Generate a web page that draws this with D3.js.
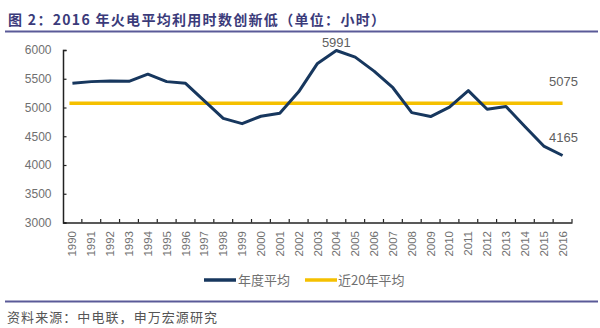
<!DOCTYPE html>
<html><head><meta charset="utf-8">
<script src="https://cdn.jsdelivr.net/npm/d3@7"></script>
<style>html,body{margin:0;padding:0;background:#fff;}svg{display:block;}</style>
</head><body>
<svg id="c" width="600" height="328"></svg>
<script>
const years = ["1990","1991","1992","1993","1994","1995","1996","1997","1998","1999","2000","2001","2002","2003","2004","2005","2006","2007","2008","2009","2010","2011","2012","2013","2014","2015","2016"];
const annualHours = [5420,5450,5460,5455,5580,5450,5420,5114,4811,4719,4848,4900,5272,5767,5991,5876,5633,5344,4911,4842,5005,5294,4970,5016,4669,4329,4165];
const avg20 = 5075;
const yTicks = [3000,3500,4000,4500,5000,5500,6000];
const seriesNames = ["年度平均","近20年平均"];
const titleText = "图 2：2016 年火电平均利用时数创新低（单位：小时）";
const sourceText = "资料来源：中电联，申万宏源研究";

const svg = d3.select("#c");
const navy = "#17375e", gold = "#f5c000", grey = "#707070";
const numFont = "'Liberation Sans', Arial, sans-serif";
const cjkFont = "'Noto Sans CJK SC', sans-serif";

// title
svg.append("text").attr("x", 8).attr("y", 25)
  .attr("font-family", cjkFont).attr("font-weight", "bold").attr("font-size", 14)
  .attr("fill", "#3b3b7a").attr("textLength", 377).attr("lengthAdjust", "spacing")
  .text(titleText);
svg.append("line").attr("x1", 5).attr("x2", 598).attr("y1", 31.5).attr("y2", 31.5)
  .attr("stroke", "#5a5a98").attr("stroke-width", 2);

const x = d3.scaleBand().domain(years).range([63, 572]).padding(0);
const y = d3.scaleLinear().domain([3000, 6000]).range([222.5, 50]);
const cx = d => x(d) + x.bandwidth() / 2;

// y axis
const ya = svg.append("g").attr("transform", "translate(63,0)")
  .call(d3.axisLeft(y).tickValues(yTicks).tickSize(-3.5).tickPadding(11.5).tickFormat(d3.format("d")));
ya.select(".domain").attr("stroke", "#222").attr("stroke-width", 1.5);
ya.selectAll(".tick line").attr("stroke", "#222").attr("stroke-width", 1.2);
ya.selectAll(".tick text").attr("font-family", numFont).attr("font-size", 12).attr("fill", grey);

// x axis
const xa = svg.append("g").attr("transform", "translate(0,222.5)")
  .call(d3.axisBottom(x).tickSize(0).tickSizeOuter(0));
xa.select(".domain").attr("stroke", "#222").attr("stroke-width", 1.5);
xa.selectAll(".tick text")
  .attr("font-family", numFont).attr("font-size", 11.5).attr("fill", grey)
  .attr("text-anchor", "end").attr("transform", "rotate(-90)")
  .attr("x", -8.5).attr("y", 0).attr("dy", "0.35em");
// boundary ticks (inward)
const bounds = years.map(d => x(d)).concat([x.range()[1]]);
svg.append("g").selectAll("line").data(bounds.slice(1)).join("line")
  .attr("x1", d => d).attr("x2", d => d).attr("y1", 222.5).attr("y2", 219)
  .attr("stroke", "#222").attr("stroke-width", 1.2);

// average line
svg.append("line").attr("x1", cx(years[0]) - 3).attr("x2", cx(years[years.length - 1]))
  .attr("y1", y(avg20)).attr("y2", y(avg20))
  .attr("stroke", gold).attr("stroke-width", 3.5);

// annual line
const line = d3.line().x((d, i) => cx(years[i])).y(d => y(d));
svg.append("path").datum(annualHours).attr("d", line)
  .attr("fill", "none").attr("stroke", navy).attr("stroke-width", 3).attr("stroke-linejoin", "round");

// labels
const maxI = annualHours.indexOf(d3.max(annualHours));
const lastI = annualHours.length - 1;
const lab = (t, xx, yy) => svg.append("text").attr("x", xx).attr("y", yy).attr("dy", "0.35em")
  .attr("text-anchor", "middle").attr("font-family", numFont).attr("font-size", 13)
  .attr("fill", "#5f5f5f").text(t);
lab(annualHours[maxI], cx(years[maxI]), y(annualHours[maxI]) - 8);
lab(avg20, cx(years[lastI]) + 1, y(avg20) - 21.5);
lab(annualHours[lastI], cx(years[lastI]) + 1, y(annualHours[lastI]) - 18);

// legend
const leg = [{n: seriesNames[0], c: navy, x: 204, tx: 238}, {n: seriesNames[1], c: gold, x: 305, tx: 338}];
leg.forEach(l => {
  svg.append("line").attr("x1", l.x).attr("x2", l.x + 32).attr("y1", 280).attr("y2", 280)
    .attr("stroke", l.c).attr("stroke-width", 3.5);
  svg.append("text").attr("x", l.tx).attr("y", 280).attr("dy", "0.35em")
    .attr("font-family", cjkFont).attr("font-size", 13).attr("fill", grey).text(l.n);
});

// bottom divider & source
svg.append("line").attr("x1", 5).attr("x2", 598).attr("y1", 301.5).attr("y2", 301.5)
  .attr("stroke", "#5a5a98").attr("stroke-width", 2);
svg.append("text").attr("x", 7).attr("y", 317).attr("dy", "0.35em")
  .attr("font-family", cjkFont).attr("font-size", 13).attr("fill", "#555")
  .attr("textLength", 210).attr("lengthAdjust", "spacing").text(sourceText);
</script>
</body></html>
